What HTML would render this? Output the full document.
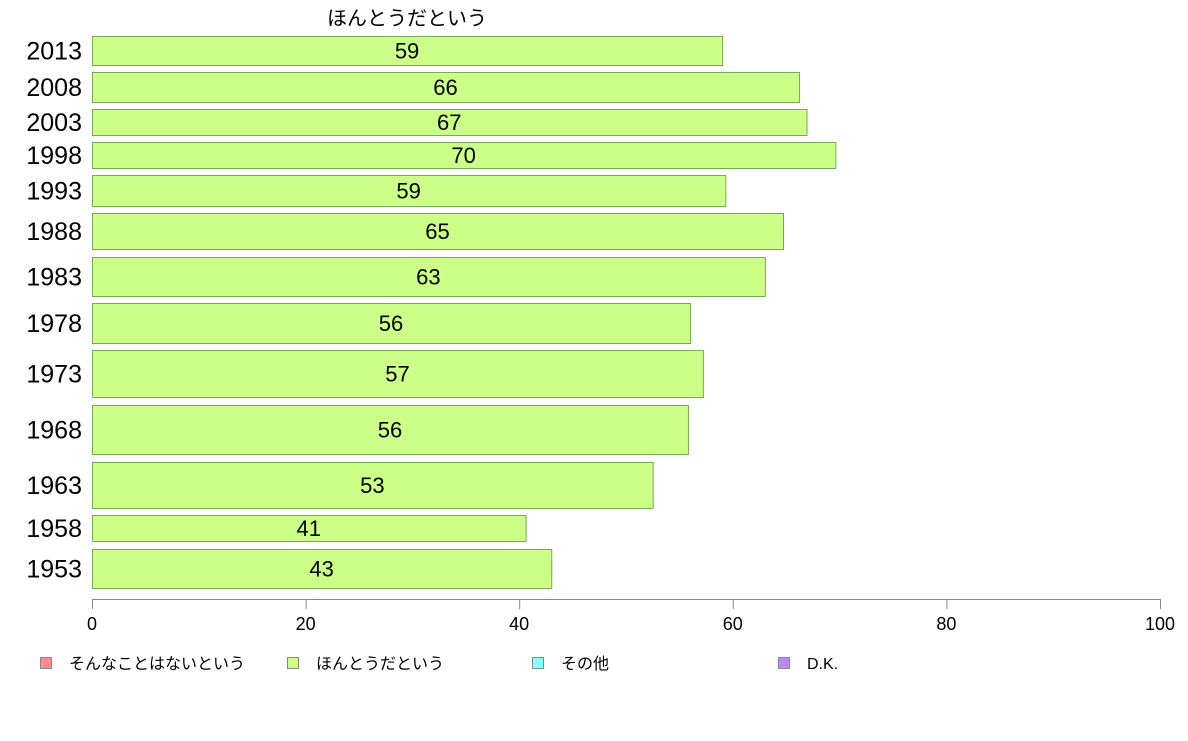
<!DOCTYPE html>
<html><head><meta charset="utf-8"><style>
body{margin:0;background:#fff;width:1188px;height:736px;overflow:hidden;font-family:"Liberation Sans","Noto Sans CJK JP",sans-serif}
</style></head><body>
<svg width="1188" height="736" style="font-family:'Liberation Sans','Noto Sans CJK JP',sans-serif">
<g id="bars"></g>
<g id="axis"></g>
<text x="407" y="25" font-size="20" text-anchor="middle">ほんとうだという</text>
<g id="legend"></g>
</svg>
<script>
const years=["2013","2008","2003","1998","1993","1988","1983","1978","1973","1968","1963","1958","1953"];
const values=[59.0,66.2,66.9,69.6,59.3,64.7,63.0,56.0,57.2,55.8,52.5,40.6,43.0];
const barTops=[36,72,109,142,175,213,257,303,350,405,462,515,549];
const barBottoms=[65,102,135,168,206,249,296,343,397,454,508,541,588];
const ticks=[0,20,40,60,80,100];
const legendLabels=["そんなことはないという","ほんとうだという","その他","D.K."];
const legendColors=["#ff8c8c","#ccff88","#88ffff","#bb88ff"];
const legendX=[40,287,532,778];
const NS="http://www.w3.org/2000/svg";
const x=v=>92+v*10.68;
function mk(t,a,p){const e=document.createElementNS(NS,t);for(const k in a)e.setAttribute(k,a[k]);p.appendChild(e);return e;}
const gb=document.getElementById('bars');
years.forEach((yr,i)=>{
 const t=barTops[i],b=barBottoms[i],m=(t+b)/2;
 const r=mk('rect',{x:92.5,y:t+0.5,width:x(values[i])-92,height:b-t,fill:'#ccff88',stroke:'#77aa55','stroke-width':1},gb);
 
 
 const yl=mk('text',{x:82,y:m+9,'font-size':25,'text-anchor':'end',fill:'#000'},gb);
 yl.textContent=yr;
 
 
 const vl=mk('text',{x:(92+x(values[i]))/2,y:m+8,'font-size':22,'text-anchor':'middle',fill:'#000'},gb);
 vl.textContent=Math.round(values[i]);
 
 
});
const ga=document.getElementById('axis');
mk('line',{x1:92,x2:1160,y1:599.5,y2:599.5,stroke:'#888'},ga);
ticks.forEach(v=>{
 mk('line',{x1:x(v)+0.5,x2:x(v)+0.5,y1:599,y2:609,stroke:'#888'},ga);
 const t=mk('text',{x:x(v),y:630,'font-size':18,'text-anchor':'middle'},ga);
 t.textContent=v;
 
 
});
const gl=document.getElementById('legend');
legendLabels.forEach((l,i)=>{
 const r=mk('rect',{x:legendX[i]+0.5,y:657.5,width:11,height:11,fill:legendColors[i],stroke:'#888'},gl);
 
 
 const t=mk('text',{x:legendX[i]+29,y:669,'font-size':16},gl);
 t.textContent=l;
 
 
});
</script>
</body></html>
